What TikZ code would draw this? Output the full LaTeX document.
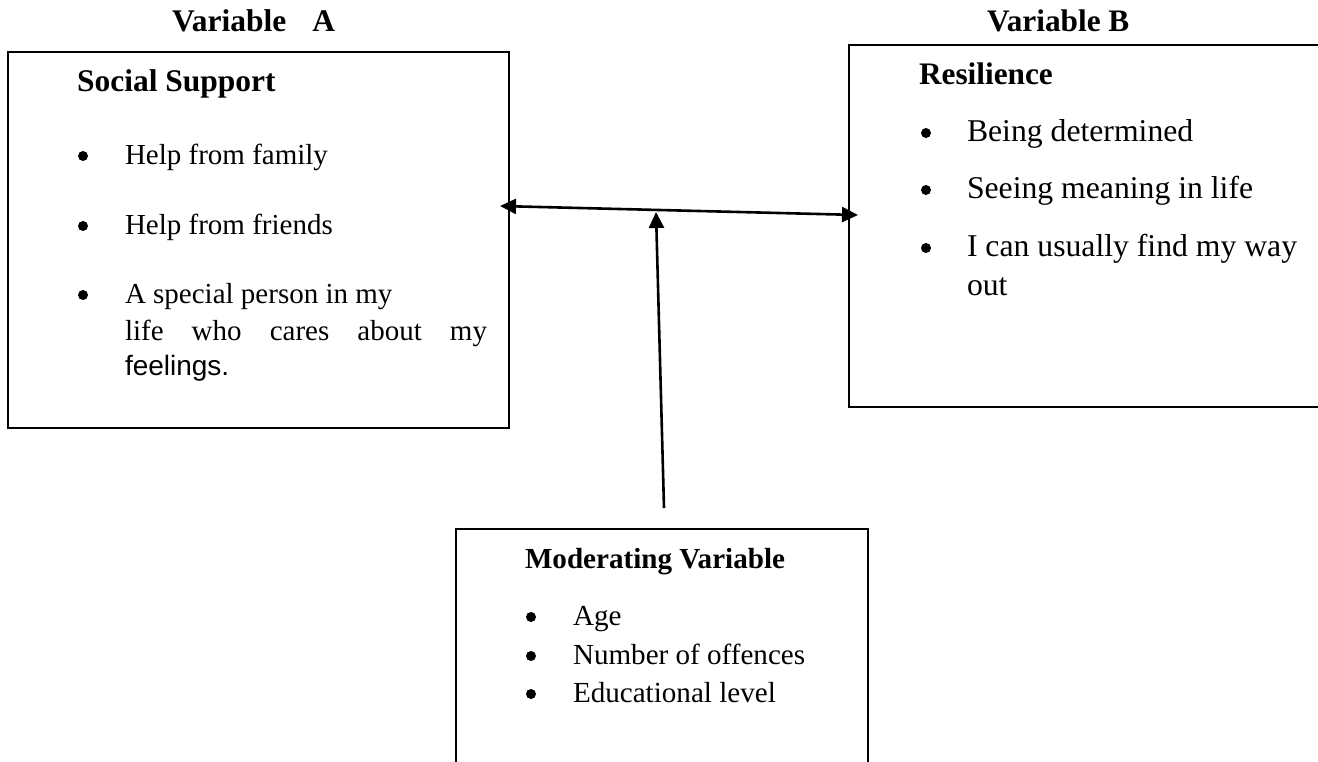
\documentclass[tikz,border=0pt]{standalone}
\usepackage{fontspec}
\setmainfont{Liberation Serif}
\newfontfamily\arialf{Liberation Sans}
\usetikzlibrary{arrows.meta}
\begin{document}
\begin{tikzpicture}[x=1pt,y=-1pt,
  box/.style={draw=black, line width=1.8pt, inner sep=0pt, outer sep=0pt, anchor=north west},
  txt/.style={anchor=base west, inner sep=0pt, outer sep=0pt},
  ftA/.style={font=\fontsize{29}{34}\selectfont},
  ftAb/.style={font=\fontsize{31.5}{36}\selectfont\bfseries},
  ftB/.style={font=\fontsize{31.7}{37}\selectfont},
  ftBb/.style={font=\fontsize{31.3}{37}\selectfont\bfseries},
  ftM/.style={font=\fontsize{29.1}{34}\selectfont},
  ftMb/.style={font=\fontsize{29.1}{34}\selectfont\bfseries},
  bul/.style={circle, fill=black, inner sep=0pt, outer sep=0pt, minimum size=10pt},
  arr/.style={line width=2.6pt, -{Triangle[length=16pt,width=15pt]}},
  darr/.style={line width=2.6pt, {Triangle[length=16pt,width=15pt]}-{Triangle[length=16pt,width=15pt]}}
]
\useasboundingbox (0,0) rectangle (1318,762);
\clip (0,0) rectangle (1318,762);
\fill[white] (0,0) rectangle (1318,762);

% headings
\node[txt, ftAb] (varA) at (172,32) {Variable\hspace{26pt}A};
\node[txt, ftBb] (varB) at (987,32) {Variable B};

% boxes
\node[box, minimum width=501pt, minimum height=376pt] (A) at (8,52) {};
\node[box, minimum width=480pt, minimum height=362pt] (B) at (849,45) {};
\node[box, minimum width=412pt, minimum height=260pt] (M) at (456,529) {};

% box A content
\node[txt, ftAb] (Ah) at (77,92) {Social Support};
\node[bul] (Ab1) at (83,156) {};
\node[txt, ftA] (A1) at (125,165) {Help from family};
\node[bul] (Ab2) at (83,226) {};
\node[txt, ftA] (A2) at (125,235) {Help from friends};
\node[bul] (Ab3) at (83,295) {};
\node[txt, ftA] (A3) at (125,304) {A special person in my};
\node[txt, ftA] (A4) at (125,340) {\makebox[362pt][s]{life\hfill who\hfill cares\hfill about\hfill my}};
\node[txt, font=\fontsize{28}{33}\selectfont\arialf] (A5) at (125,375) {feelings.};

% box B content
\node[txt, ftBb] (Bh) at (919,85) {Resilience};
\node[bul] (Bb1) at (926,133) {};
\node[txt, ftB] (B1) at (967,142) {Being determined};
\node[bul] (Bb2) at (926,190) {};
\node[txt, ftB] (B2) at (967,199) {Seeing meaning in life};
\node[bul] (Bb3) at (926,248) {};
\node[txt, ftB] (B3) at (967,257) {I can usually find my way};
\node[txt, ftB] (B4) at (967,295) {out};

% box M content
\node[txt, ftMb] (Mh) at (525,568) {Moderating Variable};
\node[bul] (Mb1) at (531,617) {};
\node[txt, ftM] (M1) at (573,625) {Age};
\node[bul] (Mb2) at (531,656) {};
\node[txt, ftM] (M2) at (573,664) {Number of offences};
\node[bul] (Mb3) at (531,694) {};
\node[txt, ftM] (M3) at (573,702) {Educational level};

% connectors
\coordinate (lt) at (500,206);
\coordinate (rt) at (858,215);
\coordinate (mt) at (656,212);
\coordinate (mb) at (664,508);
\draw[darr] (lt) -- (rt);
\draw[arr] (mb) -- (mt);
\end{tikzpicture}
\end{document}
